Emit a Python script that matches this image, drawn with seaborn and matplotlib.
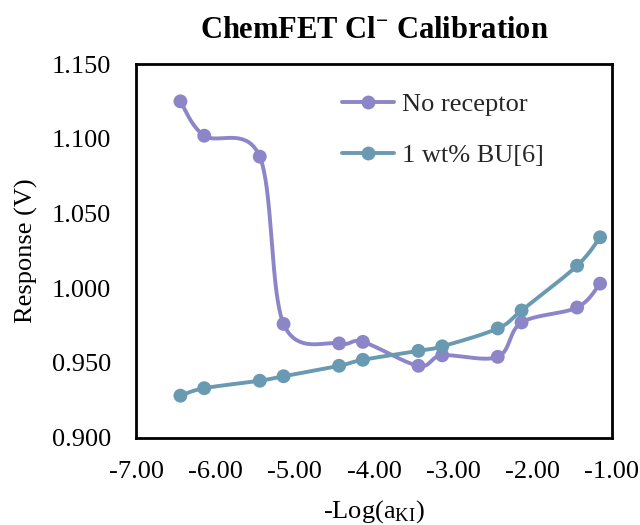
import numpy as np
import pandas as pd
import seaborn as sns
import matplotlib
matplotlib.use("Agg")
import matplotlib.pyplot as plt
from matplotlib.lines import Line2D

# -Log(a_KI) values for each calibration step
log_a = [-6.44, -6.14, -5.44, -5.14, -4.44, -4.14, -3.44, -3.14, -2.44, -2.14, -1.44, -1.15]
# Sensor response (V)
no_receptor = [1.125, 1.102, 1.088, 0.976, 0.963, 0.964, 0.948, 0.955, 0.954, 0.977, 0.987, 1.003]
bu6_1wt = [0.928, 0.933, 0.938, 0.941, 0.948, 0.952, 0.958, 0.961, 0.973, 0.985, 1.015, 1.034]

series_names = ["No receptor", "1 wt% BU[6]"]
series_colors = ["#8C86C8", "#6A9AB1"]
x_ticks = [-7.0, -6.0, -5.0, -4.0, -3.0, -2.0, -1.0]
y_ticks = [0.900, 0.950, 1.000, 1.050, 1.100, 1.150]

df = pd.DataFrame({
    "x": log_a * 2,
    "y": no_receptor + bu6_1wt,
    "series": [series_names[0]] * len(log_a) + [series_names[1]] * len(log_a),
})

sns.set_theme(style="white")
plt.rcParams["font.family"] = ["Liberation Serif", "DejaVu Serif"]
plt.rcParams["mathtext.fontset"] = "custom"
plt.rcParams["mathtext.rm"] = "Liberation Serif"
plt.rcParams["mathtext.it"] = "Liberation Serif:italic"
plt.rcParams["mathtext.bf"] = "Liberation Serif:bold"

FS = 19

fig = plt.figure(figsize=(6.4, 5.25), dpi=100)
ax = fig.add_axes([136 / 640, 1 - 437.5 / 525, (612 - 136) / 640, (437.5 - 64) / 525])

xlim = (-7.0, -1.0)
ylim = (0.900, 1.150)
ax.set_xlim(*xlim)
ax.set_ylim(*ylim)


def smooth_curve(xs, ys, n=40):
    """Spreadsheet-style smoothed line (cardinal Bezier) computed in display space."""
    w, h = fig.get_size_inches() * fig.dpi
    pos = ax.get_position()
    sx = pos.width * w / (xlim[1] - xlim[0])
    sy = pos.height * h / (ylim[1] - ylim[0])
    P = np.column_stack([(np.asarray(xs) - xlim[0]) * sx, (np.asarray(ys) - ylim[0]) * sy])
    out = [P[0]]
    k = len(P)
    for i in range(k - 1):
        p0 = P[i - 1] if i > 0 else P[i]
        p1 = P[i]
        p2 = P[i + 1]
        p3 = P[i + 2] if i + 2 < k else P[i + 1]
        c1 = p1 + (p2 - p0) / 6.0
        c2 = p2 - (p3 - p1) / 6.0
        t = np.linspace(0, 1, n)[1:, None]
        seg = ((1 - t) ** 3) * p1 + 3 * ((1 - t) ** 2) * t * c1 + 3 * (1 - t) * t ** 2 * c2 + t ** 3 * p2
        out.extend(seg)
    out = np.array(out)
    return out[:, 0] / sx + xlim[0], out[:, 1] / sy + ylim[0]


for name, ys, col in zip(series_names, [no_receptor, bu6_1wt], series_colors):
    cx, cy = smooth_curve(log_a, ys)
    ax.plot(cx, cy, color=col, lw=2.8, solid_capstyle="round", zorder=2)

sns.scatterplot(data=df, x="x", y="y", hue="series", palette=series_colors,
                s=100, edgecolor="none", legend=False, ax=ax, zorder=3)

ax.set_xticks(x_ticks)
ax.set_xticklabels([f"{v:.2f}" for v in x_ticks])
ax.set_yticks(y_ticks)
ax.set_yticklabels([f"{v:.3f}" for v in y_ticks])
ax.tick_params(axis="both", length=0, labelsize=FS, colors="black")
ax.tick_params(axis="x", pad=17)
ax.tick_params(axis="y", pad=18)

for s in ax.spines.values():
    s.set_visible(True)
    s.set_color("black")
    s.set_linewidth(2.0)

ax.set_xlabel(r"-Log(a$_{\mathrm{KI}}$)", fontsize=FS, color="black", labelpad=11)
ax.set_ylabel("Response (V)", fontsize=FS, color="black", labelpad=9.5)
ax.set_title(r"ChemFET Cl$^{\mathbf{-}}$ Calibration", fontsize=22, fontweight="bold",
             color="black", pad=19)

handles = [Line2D([0], [0], color=c, lw=2.8, marker="o", markersize=10, markeredgewidth=0)
           for c in series_colors]
ax.legend(handles, series_names, loc="upper left", bbox_to_anchor=(0.41, 0.952),
          frameon=False, fontsize=FS, handlelength=2.0, handletextpad=0.3,
          labelspacing=1.05, borderaxespad=0)

fig.savefig("out.png", dpi=100)
